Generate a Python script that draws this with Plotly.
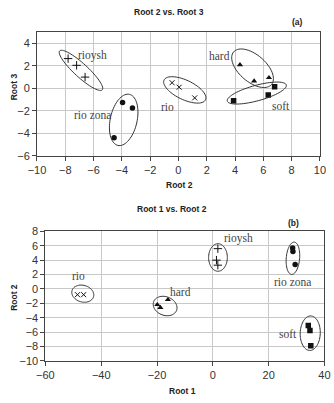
import numpy as np
import plotly.graph_objects as go

W, H = 334, 403

# ---------------- data: panel (a) Root 2 vs Root 3 ----------------
rioysh_a_x = [-7.8, -7.2, -6.6]
rioysh_a_y = [2.65, 2.05, 1.0]
riozona_a_x = [-3.95, -3.25, -4.55]
riozona_a_y = [-1.25, -1.75, -4.4]
rio_a_x = [-0.45, 0.05, 1.15]
rio_a_y = [0.5, 0.1, -0.85]
hard_a_x = [4.35, 5.35, 6.4]
hard_a_y = [2.1, 0.65, 0.95]
soft_a_x = [3.9, 6.35, 6.8]
soft_a_y = [-1.1, -0.6, 0.15]

# ---------------- data: panel (b) Root 1 vs Root 2 ----------------
rio_b_x = [-48.5, -46.3]
rio_b_y = [-0.8, -0.8]
hard_b_x = [-19.9, -18.8, -16.1]
hard_b_y = [-2.2, -2.6, -1.5]
rioysh_b_x = [1.8, 1.3, 1.8]
rioysh_b_y = [5.6, 4.0, 3.3]
riozona_b_x = [28.6, 28.7, 29.5]
riozona_b_y = [5.7, 5.2, 3.4]
soft_b_x = [34.2, 34.8, 35.1]
soft_b_y = [-5.1, -5.8, -7.9]

# group labels (text, x, y)
labels_a = [("rioysh", -6.1, 2.95), ("rio zona", -6.1, -2.35), ("rio", -0.75, -1.7),
            ("hard", 2.9, 2.85), ("soft", 7.25, -1.55)]
labels_b = [("rio", -48.2, 1.8), ("hard", -11.6, -0.45), ("rioysh", 9.1, 6.95),
            ("rio zona", 28.6, 1.0), ("soft", 26.8, -6.3)]

# ellipses: centre (data), semi-axes (px), angle (deg, screen)
ell_a = [(-6.89, 1.60, 30, 7, 42), (-3.87, -2.81, 27, 14, -77), (0.45, -0.14, 24, 10, 25),
         (5.24, 1.79, 26, 14, 40), (5.54, -0.42, 32, 8, -15)]
ell_b = [(-46.6, -0.66, 11.7, 8.6, 15), (-17.1, -2.38, 12.8, 9.6, 20), (1.84, 4.37, 14.2, 9.8, 90),
         (28.7, 4.26, 16.7, 7, 95), (34.9, -6.16, 17.8, 10.5, 92)]

# ---------------- layout geometry ----------------
xa_dom = [29.3 / W, 325.5 / W]
ya_dom = [1 - 154.3 / H, 1 - 27 / H]
xb_dom = [38.1 / W, 330.3 / W]
yb_dom = [1 - 365.7 / H, 1 - 232.3 / H]
xa_rng, ya_rng = [-10, 10], [-6, 5]
xb_rng, yb_rng = [-60, 40], [-10, 8]


def scale(dom, rng, total):
    return (dom[1] - dom[0]) * total / (rng[1] - rng[0])


def ellipse_path(cx, cy, a, b, ang, sx, sy):
    t = np.linspace(0, 2 * np.pi, 73)
    th = np.radians(ang)
    ox = a * np.cos(t) * np.cos(th) - b * np.sin(t) * np.sin(th)
    oy = a * np.cos(t) * np.sin(th) + b * np.sin(t) * np.cos(th)
    xs = cx + ox / sx
    ys = cy - oy / sy
    pts = [f"{x:.4f},{y:.4f}" for x, y in zip(xs, ys)]
    return "M " + " L ".join(pts) + " Z"


fig = go.Figure()


def add(x, y, sym, size, xa, ya, lw=0):
    fig.add_trace(go.Scatter(x=x, y=y, mode="markers", xaxis=xa, yaxis=ya,
                             marker=dict(symbol=sym, size=size, color="#111",
                                         line=dict(width=lw, color="#222")),
                             showlegend=False, hoverinfo="skip"))


add(rioysh_a_x, rioysh_a_y, "cross-thin-open", 6, "x", "y", 1)
add(riozona_a_x, riozona_a_y, "circle", 5.5, "x", "y")
add(rio_a_x, rio_a_y, "x-thin-open", 5, "x", "y", 1)
add(hard_a_x, hard_a_y, "triangle-up", 5.5, "x", "y")
add(soft_a_x, soft_a_y, "square", 5.5, "x", "y")

add(rio_b_x, rio_b_y, "x-thin-open", 5, "x2", "y2", 1)
add(hard_b_x, hard_b_y, "triangle-up", 5.5, "x2", "y2")
add(rioysh_b_x, rioysh_b_y, "cross-thin-open", 6, "x2", "y2", 1)
add(riozona_b_x, riozona_b_y, "circle", 5.5, "x2", "y2")
add(soft_b_x, soft_b_y, "square", 5.5, "x2", "y2")

sxa, sya = scale(xa_dom, xa_rng, W), scale(ya_dom, ya_rng, H)
sxb, syb = scale(xb_dom, xb_rng, W), scale(yb_dom, yb_rng, H)

shapes = []
for cx, cy, a, b, ang in ell_a:
    shapes.append(dict(type="path", xref="x", yref="y", path=ellipse_path(cx, cy, a, b, ang, sxa, sya),
                       line=dict(color="#333", width=1)))
for cx, cy, a, b, ang in ell_b:
    shapes.append(dict(type="path", xref="x2", yref="y2", path=ellipse_path(cx, cy, a, b, ang, sxb, syb),
                       line=dict(color="#333", width=1)))

annotations = []
serif = dict(family="Liberation Serif, Times New Roman, serif", size=11.5, color="#444")
for t, x, y in labels_a:
    annotations.append(dict(text=t, x=x, y=y, xref="x", yref="y", showarrow=False, font=serif))
for t, x, y in labels_b:
    annotations.append(dict(text=t, x=x, y=y, xref="x2", yref="y2", showarrow=False, font=serif))

bold = dict(family="Liberation Sans, Arial, sans-serif", size=8.5, color="#222")


def pa(text, x, y, angle=0):
    annotations.append(dict(text=f"<b>{text}</b>", x=x / W, y=1 - y / H, xref="paper", yref="paper",
                            showarrow=False, font=bold, textangle=angle,
                            xanchor="center", yanchor="middle"))


pa("Root 2 vs. Root 3", 168, 6)
pa("(a)", 302, 17)
pa("Root 2", 178.7, 184)
pa("Root 3", 5, 83, -90)
pa("Root 1 vs. Root 2", 170.7, 209.5)
pa("(b)", 297.7, 224)
pa("Root 1", 181.7, 397)
pa("Root 2", 5, 300, -90)

tickfont = dict(family="Liberation Sans, Arial, sans-serif", size=11, color="#333")
ax_common = dict(showgrid=True, gridcolor="#c8c8c8", gridwidth=1, zeroline=False,
                 showline=True, linecolor="#444", linewidth=1, mirror=True,
                 ticks="outside", ticklen=4, tickcolor="#444", tickfont=tickfont, fixedrange=True)

fig.update_layout(
    width=W, height=H, margin=dict(l=0, r=0, t=0, b=0),
    paper_bgcolor="white", plot_bgcolor="white",
    xaxis=dict(domain=xa_dom, range=xa_rng, dtick=2, tick0=-10, anchor="y", **ax_common),
    yaxis=dict(domain=ya_dom, range=ya_rng, tickvals=[-6, -4, -2, 0, 2, 4], anchor="x", **ax_common),
    xaxis2=dict(domain=xb_dom, range=xb_rng, dtick=20, tick0=-60, anchor="y2", **ax_common),
    yaxis2=dict(domain=yb_dom, range=yb_rng, dtick=2, tick0=-10, anchor="x2", **ax_common),
    shapes=shapes, annotations=annotations,
)

fig.write_html("out.html")
